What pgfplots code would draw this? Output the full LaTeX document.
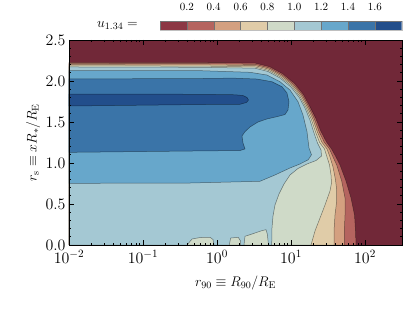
\documentclass[border=0pt]{standalone}
\usepackage{fix-cm}
\usepackage{pgfplots}
\pgfplotsset{compat=1.18}
\definecolor{cR}{RGB}{113,40,56}
\definecolor{cA}{RGB}{140,55,68}
\definecolor{cB}{RGB}{181,100,95}
\definecolor{cC}{RGB}{212,160,128}
\definecolor{cD}{RGB}{224,204,168}
\definecolor{cE}{RGB}{207,218,200}
\definecolor{cF}{RGB}{164,200,211}
\definecolor{cG}{RGB}{103,167,203}
\definecolor{cH}{RGB}{58,116,168}
\definecolor{cI}{RGB}{34,78,139}
\begin{document}
\begin{tikzpicture}
\begin{axis}[
  name=main,
  scale only axis, width=333bp, height=205bp,
  xmode=log, xmin=0.01, xmax=316.23, ymin=0, ymax=2.5,
  xtick={0.01,0.1,1,10,100},
  ytick={0,0.5,1,1.5,2,2.5},
  minor y tick num=4,
  y tick label style={/pgf/number format/.cd, fixed, fixed zerofill, precision=1, /tikz/.cd},
  x tick label style={yshift=-2bp},
  tick align=inside,
  major tick length=5bp, minor tick length=2.5bp,
  tick style={black, line width=0.6bp},
  axis line style={black, line width=0.8bp},
  axis on top,
  tick label style={font=\fontsize{16}{18}\selectfont},
  label style={font=\fontsize{14}{16}\selectfont},
  xlabel={$r_{90} \equiv R_{90}/R_{\mathrm{E}}$},
  ylabel={$r_{\mathrm{s}} \equiv xR_{\ast}/R_{\mathrm{E}}$},
  xlabel style={at={(axis description cs:0.5,-0.185)}, anchor=center},
  ylabel style={at={(axis description cs:-0.108,0.5)}, anchor=center},
  ctr/.style={draw=black, draw opacity=0.45, line width=0.5bp},
]
% background: u < 0.2
\addplot[fill=cR, draw=none] coordinates {(0.01,0) (316.23,0) (316.23,2.5) (0.01,2.5)} -- cycle;
% u > 0.2
\addplot[fill=cB, ctr] coordinates {(0.01,2.228) (0.5892,2.227) (3.314,2.217) (5.169,2.173) (7.748,2.087) (11.15,1.970) (14.62,1.839) (17.78,1.698) (21.50,1.549) (25.20,1.391) (30.09,1.257) (35.26,1.171) (40.56,1.073) (45.94,0.976) (55.36,0.780) (64.68,0.573) (72.14,0.366) (74.42,0.171) (75.59,0) (0.01,0)} -- cycle;
% u > 0.4
\addplot[fill=cC, ctr] coordinates {(0.01,2.214) (0.5892,2.212) (3.303,2.202) (5.098,2.158) (7.580,2.074) (10.84,1.959) (14.17,1.830) (17.18,1.691) (20.58,1.543) (23.90,1.385) (28.10,1.254) (33.14,1.171) (36.95,1.073) (41.46,0.976) (48.43,0.780) (53.67,0.573) (53.67,0.366) (52.52,0.171) (52.52,0) (0.01,0)} -- cycle;
% u > 0.6
\addplot[fill=cD, ctr] coordinates {(0.01,2.199) (0.5892,2.197) (3.288,2.187) (5.028,2.144) (7.418,2.062) (10.56,1.948) (13.69,1.822) (16.58,1.684) (19.71,1.537) (22.70,1.379) (26.24,1.251) (30.66,1.171) (33.65,1.073) (36.95,0.951) (39.94,0.793) (41.46,0.671) (41.46,0.537) (39.32,0.366) (38.12,0.171) (38.12,0) (0.01,0)} -- cycle;
% u > 0.8
\addplot[fill=cE, ctr] coordinates {(0.01,2.185) (0.5892,2.182) (3.273,2.171) (4.958,2.130) (7.257,2.049) (10.28,1.938) (13.23,1.813) (16.00,1.677) (18.86,1.530) (21.57,1.372) (24.42,1.248) (28.37,1.171) (30.66,1.073) (33.14,0.976) (34.71,0.854) (35.26,0.756) (33.65,0.659) (28.81,0.488) (24.65,0.329) (21.10,0.171) (18.63,0) (0.01,0)} -- cycle;
% u > 1.0
\addplot[fill=cF, ctr] coordinates {(0.01,2.171) (0.5892,2.167) (3.263,2.156) (4.889,2.116) (7.102,2.037) (10.0,1.927) (12.83,1.805) (15.46,1.671) (18.06,1.524) (20.46,1.366) (22.81,1.244) (25.44,1.159) (25.84,1.085) (21.77,1.030) (16.45,0.988) (12.43,0.933) (9.694,0.854) (8.040,0.744) (6.883,0.622) (6.078,0.488) (5.712,0.354) (5.536,0.207) (5.536,0.085) (5.451,0) (4.965,0) (4.784,0.134) (4.594,0.187) (4.019,0.174) (2.792,0.126) (2.390,0.106) (2.316,0) (2.078,0) (2.091,0.045) (1.940,0.094) (1.531,0.085) (1.466,0) (0.911,0) (0.883,0.067) (0.804,0.094) (0.5892,0.091) (0.4594,0.073) (0.3932,0) (0.01,0)} -- cycle;
% u > 1.2
\addplot[fill=cG, ctr] coordinates {(0.01,2.128) (0.5892,2.126) (2.792,2.106) (4.740,2.073) (7.102,1.991) (9.694,1.890) (12.43,1.748) (14.53,1.585) (16.45,1.382) (17.51,1.183) (18.92,1.101) (17.13,1.040) (13.23,0.988) (9.694,0.939) (6.078,0.854) (3.812,0.777) (0.4316,0.756) (0.01,0.752)} -- cycle;
% u > 1.4
\addplot[fill=cH, ctr] coordinates {(0.01,2.025) (0.5892,2.030) (1.645,2.035) (3.471,2.024) (5.536,1.991) (7.557,1.930) (8.830,1.854) (9.397,1.748) (9.110,1.646) (8.294,1.591) (6.468,1.565) (4.740,1.537) (3.582,1.500) (2.792,1.439) (2.390,1.382) (2.177,1.329) (2.246,1.244) (2.390,1.171) (2.046,1.152) (0.4316,1.146) (0.01,1.130)} -- cycle;
% u > 1.6
\addplot[fill=cI, ctr] coordinates {(0.01,1.841) (0.5892,1.838) (1.751,1.832) (2.246,1.823) (2.544,1.799) (2.666,1.768) (2.504,1.738) (2.046,1.716) (0.5892,1.713) (0.01,1.695)} -- cycle;
\end{axis}
\begin{axis}[
  name=cbar,
  at={(main.north west)}, anchor=south west, xshift=91bp, yshift=10bp,
  scale only axis, width=241.7bp, height=9bp,
  xmin=0, xmax=1.8, ymin=0, ymax=1,
  xtick={0.2,0.4,0.6,0.8,1.0,1.2,1.4,1.6}, ytick=\empty,
  xticklabel pos=upper, xtick style={draw=none},
  axis line style={draw=black!25, line width=0.4bp},
  x tick label style={font=\fontsize{11}{13}\selectfont, yshift=6.5bp, /pgf/number format/.cd, fixed, fixed zerofill, precision=1, /tikz/.cd},
  ylabel={$u_{1.34} =$},
  ylabel style={font=\fontsize{14}{16}\selectfont, at={(axis description cs:0,0.5)}, rotate=-90, anchor=east, inner sep=0pt, xshift=-22bp},
  cb/.style={draw=black!55, line width=0.4bp},
]
\addplot[fill=cA, cb] coordinates {(0,0) (0.2,0) (0.2,1) (0,1)} -- cycle;
\addplot[fill=cB, cb] coordinates {(0.2,0) (0.4,0) (0.4,1) (0.2,1)} -- cycle;
\addplot[fill=cC, cb] coordinates {(0.4,0) (0.6,0) (0.6,1) (0.4,1)} -- cycle;
\addplot[fill=cD, cb] coordinates {(0.6,0) (0.8,0) (0.8,1) (0.6,1)} -- cycle;
\addplot[fill=cE, cb] coordinates {(0.8,0) (1.0,0) (1.0,1) (0.8,1)} -- cycle;
\addplot[fill=cF, cb] coordinates {(1.0,0) (1.2,0) (1.2,1) (1.0,1)} -- cycle;
\addplot[fill=cG, cb] coordinates {(1.2,0) (1.4,0) (1.4,1) (1.2,1)} -- cycle;
\addplot[fill=cH, cb] coordinates {(1.4,0) (1.6,0) (1.6,1) (1.4,1)} -- cycle;
\addplot[fill=cI, cb] coordinates {(1.6,0) (1.8,0) (1.8,1) (1.6,1)} -- cycle;
\end{axis}
\pgfresetboundingbox
\path (main.south west) ++(-69bp,-71bp) rectangle ++(415bp,316bp);
\end{tikzpicture}
\end{document}
